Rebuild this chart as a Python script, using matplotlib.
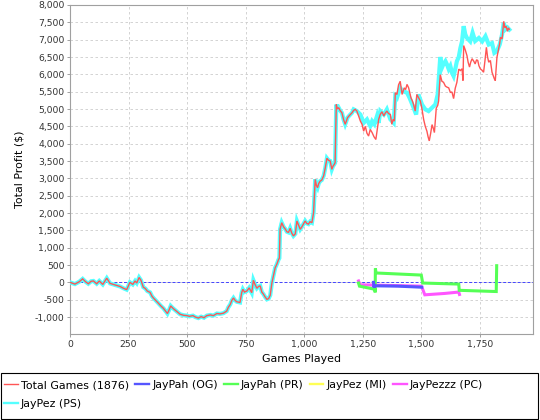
import matplotlib
matplotlib.use("Agg")
import matplotlib.pyplot as plt
from matplotlib.lines import Line2D
from matplotlib.patches import Rectangle
from matplotlib.ticker import FuncFormatter, MultipleLocator

# series values (game number, running profit in $)
total_games = [0, 21, 40, 54, 66, 78, 90, 100, 114, 125, 140, 157, 171, 185, 199,
               214, 228, 242, 256, 268, 278, 285, 295, 303, 313, 322, 330, 342, 350,
               356, 366, 377, 388, 399, 408, 416, 423, 430, 440, 449, 460, 470, 485,
               499, 510, 525, 535, 548, 560, 572, 584, 600, 612, 627, 640, 655, 669,
               676, 684, 691, 698, 705, 712, 726, 733, 738, 745, 755, 765, 776, 783,
               790, 798, 805, 812, 819, 826, 833, 841, 848, 855, 862, 869, 876, 883,
               890, 894, 897, 904, 912, 919, 926, 933, 940, 947, 954, 962, 969, 976,
               983, 990, 1004, 1011, 1018, 1025, 1033, 1040, 1047, 1052, 1057, 1062,
               1068, 1075, 1083, 1090, 1097, 1104, 1111, 1118, 1123, 1128, 1132, 1137,
               1142, 1147, 1154, 1161, 1168, 1175, 1180, 1185, 1194, 1204, 1211, 1218,
               1225, 1232, 1240, 1247, 1254, 1261, 1268, 1275, 1282, 1290, 1298, 1306,
               1312, 1318, 1325, 1332, 1340, 1346, 1353, 1360, 1368, 1374, 1380, 1385,
               1389, 1396, 1403, 1410, 1418, 1427, 1433, 1439, 1446, 1456, 1462, 1467,
               1474, 1481, 1488, 1496, 1503, 1510, 1517, 1524, 1529, 1534, 1540, 1546,
               1551, 1556, 1564, 1570, 1574, 1578, 1581, 1588, 1595, 1603, 1610, 1617,
               1624, 1631, 1638, 1645, 1652, 1660, 1667, 1674, 1678, 1681, 1688, 1695,
               1700, 1706, 1711, 1717, 1724, 1730, 1736, 1741, 1746, 1752, 1759, 1766,
               1772, 1778, 1783, 1788, 1795, 1802, 1808, 1812, 1816, 1823, 1830, 1835,
               1838, 1845, 1852, 1857, 1862, 1868, 1872, 1876]
total_profit = [0, -50, 20, 100, 20, -40, 30, 40, -40, 40, -60, 120, -30, -60, -90,
                -120, -170, -210, 0, -60, 40, -20, 140, 60, -140, -180, -250, -290, -400,
                -450, -520, -600, -680, -750, -830, -900, -800, -680, -750, -800, -860, -920, -950,
                -960, -980, -960, -1000, -1030, -990, -1020, -960, -940, -960, -900, -910, -890, -830,
                -720, -640, -520, -450, -520, -560, -580, -300, -200, -280, -250, -160, -300, 60,
                -60, -170, -120, -100, -280, -340, -420, -490, -470, -370, -20, 200, 420, 520,
                650, 700, 1530, 1720, 1600, 1540, 1460, 1440, 1560, 1420, 1340, 1400, 1770, 1650,
                1530, 1600, 1770, 1700, 1680, 1750, 1720, 2010, 2970, 2800, 2730, 2850,
                2920, 2950, 3070, 3300, 3580, 3520, 3500, 3260, 3350, 3400, 3450, 5130,
                5000, 5040, 4950, 4890, 4700, 4560, 4650, 4750, 4820, 4890, 4960, 4990,
                4940, 4800, 4650, 4560, 4360, 4500, 4300, 4220, 4410, 4320, 4200, 4120,
                4400, 4700, 4850, 4920, 4800, 4880, 4940, 4870, 4840, 4560, 4700, 4650,
                5470, 5420, 5700, 5800, 5420, 5610, 5560, 5710, 5610, 5320, 5230, 5130,
                4940, 5420, 5330, 5230, 5000, 4700, 4500, 4360, 4200, 4080, 4300, 4550,
                4450, 4320, 5030, 5100, 5230, 5700, 5990, 5800, 5770, 5660, 5630, 5610,
                5480, 5490, 5300, 5600, 5770, 6150, 6110, 6160, 5820, 6830, 6700, 6540,
                6350, 6210, 6350, 6450, 6380, 6300, 6420, 6400, 6250, 6160, 6120, 6060,
                6400, 6780, 6500, 6350, 6400, 6060, 5950, 5870, 5820, 6490, 6730, 6900,
                7070, 7020, 7530, 7340, 7390, 7240, 7340, 7300]

# JayPez (PS) follows the total until ~game 1204, then runs above it
ps_split = 1204
ps_late_games = [1211, 1225, 1240, 1254, 1268, 1282, 1290, 1300, 1311, 1318, 1325,
                 1340, 1353, 1368, 1382, 1389, 1396, 1410, 1420, 1439, 1450, 1467,
                 1478, 1488, 1503, 1517, 1531, 1546, 1560, 1570, 1577, 1581, 1588,
                 1595, 1603, 1610, 1617, 1624, 1631, 1638, 1645, 1652, 1660, 1667,
                 1674, 1681, 1688, 1695, 1709, 1719, 1730, 1746, 1760, 1774, 1788,
                 1802, 1812, 1823, 1835, 1845, 1852, 1860, 1868, 1876]
ps_late_profit = [4990, 4940, 4840, 4600, 4700, 4510, 4650, 4560, 4800, 4600, 4940,
                  4840, 4990, 4700, 4600, 5370, 5320, 5610, 5520, 5470, 5320, 5040,
                  4840, 5420, 5130, 4990, 4940, 5040, 5130, 5420, 6090, 6500, 6190,
                  6300, 6380, 6280, 6150, 6240, 6050, 5950, 6150, 6380, 6500, 6760,
                  6950, 7390, 7150, 7050, 6950, 7200, 6960, 7050, 6950, 7100, 6860,
                  6900, 6620, 6670, 6860, 7150, 7480, 7300, 7350, 7290]

og_games = [1296, 1298, 1300, 1400, 1502]
og_profit = [0, -150, -100, -110, -140]

pr_games = [1232, 1236, 1302, 1303, 1304, 1307, 1500, 1506, 1660, 1662, 1820, 1822]
pr_profit = [-20, -110, -200, -290, 400, 270, 210, -20, -50, -230, -265, 480]

mi_games = []
mi_profit = []

pc_games = [1232, 1238, 1306, 1400, 1500, 1505, 1515, 1600, 1660, 1663]
pc_profit = [40, -70, -80, -95, -110, -180, -360, -320, -280, -350]

labels = ["Total Games (1876)", "JayPah (OG)", "JayPah (PR)", "JayPez (MI)",
          "JayPezzz (PC)", "JayPez (PS)"]
colors = ["#ff5555", "#5555ff", "#55ff55", "#ffff55", "#ff55ff", "#55ffff"]

n_early = sum(1 for g in total_games if g <= ps_split)
ps_games = total_games[:n_early] + ps_late_games
ps_profit = total_profit[:n_early] + ps_late_profit

fig = plt.figure(figsize=(5.4, 4.2), dpi=100)
ax = fig.add_axes([70 / 540, 1 - 334 / 420, 463 / 540, 329 / 420])

series = [(total_games, total_profit, 1.0), (og_games, og_profit, 2.2),
          (pr_games, pr_profit, 2.2), (mi_games, mi_profit, 2.2),
          (pc_games, pc_profit, 2.2), (ps_games, ps_profit, 3.0)]
handles = []
for i, (gx, gy, lw) in enumerate(series):
    ax.plot(gx, gy, color=colors[i], lw=lw, zorder=10 - i,
            solid_joinstyle="miter")
    handles.append(Line2D([], [], color=colors[i], lw=lw if i == 0 else 1.7))

ax.axhline(0, color="#4444ff", lw=0.7, ls=(0, (3, 2)), zorder=1)

ax.set_xlim(0, 1977)
ax.set_ylim(-1490, 8000)
ax.xaxis.set_major_locator(MultipleLocator(250))
ax.yaxis.set_major_locator(MultipleLocator(500))
fmt = FuncFormatter(lambda v, p: f"{v:,.0f}")
ax.xaxis.set_major_formatter(fmt)
ax.yaxis.set_major_formatter(fmt)
ax.grid(True, color="#cccccc", lw=0.6, ls=(0, (3, 3)))
ax.set_axisbelow(True)
for s in ax.spines.values():
    s.set_color("#a0a0a0")
    s.set_linewidth(0.8)
ax.tick_params(length=2, width=0.7, color="#a0a0a0", labelsize=6.7, pad=2,
               labelcolor="#333333")
ax.set_xlabel("Games Played", fontsize=7.9, labelpad=4)
ax.set_ylabel("Total Profit ($)", fontsize=7.9, labelpad=7)

# legend order so that matplotlib's column fill gives the reference rows
order = [0, 5, 1, 2, 3, 4]
fig.legend([handles[i] for i in order], [labels[i] for i in order],
           loc="upper left", bbox_to_anchor=(4 / 540, 1 - 380 / 420),
           ncol=5, frameon=False, fontsize=7.9, handlelength=1.25,
           handletextpad=0.3, columnspacing=0.55, labelspacing=0.85,
           borderpad=0, borderaxespad=0)
fig.patches.append(Rectangle((1 / 540, 1 / 420), 537 / 540, 46 / 420,
                             transform=fig.transFigure, fill=False,
                             edgecolor="black", lw=0.8))

fig.savefig("out.png", dpi=100)
